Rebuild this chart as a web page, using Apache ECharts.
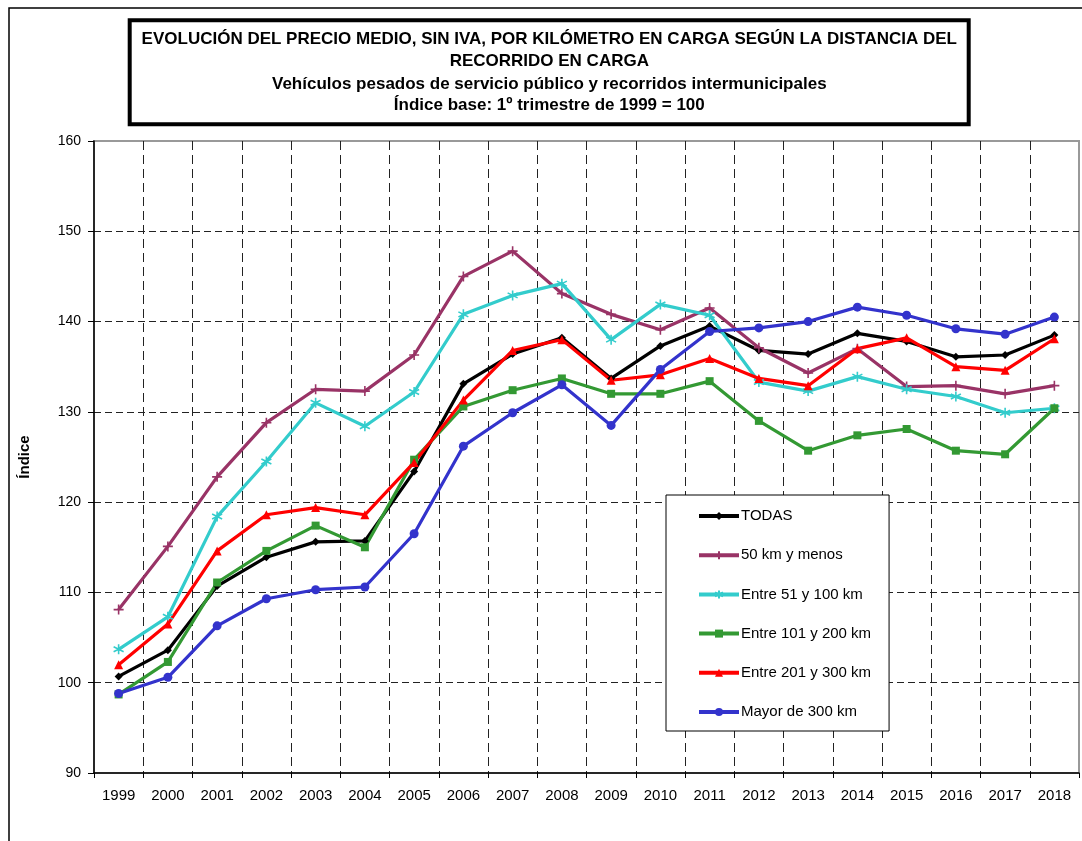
<!DOCTYPE html>
<html>
<head>
<meta charset="utf-8">
<script src="https://cdn.jsdelivr.net/npm/echarts@6/dist/echarts.min.js"></script>
<style>
html,body{margin:0;padding:0;background:#fff;}
#main{width:1082px;height:841px;}
</style>
</head>
<body>
<div id="main"></div>
<script>
var years = ['1999','2000','2001','2002','2003','2004','2005','2006','2007','2008','2009','2010','2011','2012','2013','2014','2015','2016','2017','2018'];
var yTicks = [90, 160, 10];
var titleLines = [
  'EVOLUCIÓN DEL PRECIO MEDIO, SIN IVA, POR KILÓMETRO EN CARGA SEGÚN LA DISTANCIA DEL',
  'RECORRIDO EN CARGA',
  'Vehículos pesados de servicio público y recorridos intermunicipales',
  'Índice base: 1º trimestre de 1999 = 100'
];
var seriesNames = ['TODAS','50 km y menos','Entre 51 y 100 km','Entre 101 y 200 km','Entre 201 y 300 km','Mayor de 300 km'];
var todas    = [100.7,103.6,110.7,113.9,115.6,115.7,123.4,133.1,136.4,138.2,133.7,137.3,139.5,136.8,136.4,138.7,137.8,136.1,136.3,138.5];
var menos50  = [108.1,115.1,122.8,128.8,132.5,132.3,136.3,145.0,147.8,143.1,140.8,139.1,141.5,137.1,134.3,137.0,132.8,132.9,132.0,132.9];
var e51_100  = [103.7,107.3,118.4,124.5,131.0,128.4,132.2,140.8,142.9,144.2,138.0,141.9,140.7,133.3,132.3,133.9,132.5,131.7,129.9,130.4];
var e101_200 = [98.7,102.3,111.1,114.6,117.4,115.0,124.7,130.6,132.4,133.7,132.0,132.0,133.4,129.0,125.7,127.4,128.1,125.7,125.3,130.4];
var e201_300 = [102.0,106.5,114.6,118.6,119.4,118.6,124.4,131.3,136.8,138.0,133.5,134.1,135.9,133.7,132.9,137.0,138.2,135.0,134.6,138.1];
var mayor300 = [98.8,100.6,106.3,109.3,110.3,110.6,116.5,126.2,129.9,133.0,128.5,134.7,138.9,139.3,140.0,141.6,140.7,139.2,138.6,140.5];

var FONT = "'Liberation Sans', Arial, Helvetica, sans-serif";
var chart = echarts.init(document.getElementById('main'), null, {renderer:'canvas'});

function mk(name, data, color, symbol, size, stroke) {
  return {
    name: name, type: 'line', data: data,
    symbol: symbol, symbolSize: size,
    showAllSymbol: true,
    lineStyle: {color: color, width: 3.2},
    itemStyle: stroke ? {color: color, borderColor: color, borderWidth: 1.6} : {color: color, borderWidth: 0},
    emphasis: {disabled: true},
    animation: false
  };
}
var plusPath = 'path://M0,5L10,5M5,0L5,10';
var starPath = 'path://M5,0L5,10M0.7,2.5L9.3,7.5M0.7,7.5L9.3,2.5';

var graphics = [
  {type:'rect', shape:{x:9, y:8, width:1100, height:860}, style:{fill:'none', stroke:'#000', lineWidth:1.5}, silent:true},
  {type:'rect', shape:{x:129.7, y:20.3, width:839, height:104}, style:{fill:'#fff', stroke:'#000', lineWidth:4}, silent:true}
];
var lineY = [39, 61, 84, 105];
for (var i = 0; i < titleLines.length; i++) {
  graphics.push({type:'text', x:549.3, y:lineY[i], silent:true,
    style:{text:titleLines[i], fill:'#000', font:'bold 17px ' + FONT, textAlign:'center', textVerticalAlign:'middle'}});
}

chart.setOption({
  animation: false,
  backgroundColor: '#fff',
  textStyle: {fontFamily: FONT},
  graphic: graphics,
  grid: {left:94, top:141, right:3, bottom:68, show:true, borderColor:'#999', borderWidth:2, backgroundColor:'transparent'},
  legend: {
    orient:'vertical', left:666, top:495,
    padding:[13, 18, 11, 31],
    itemWidth:40, itemHeight:10, itemGap:23.2,
    backgroundColor:'#fff', borderColor:'#000', borderWidth:1,
    lineStyle:{width:4},
    textStyle:{fontSize:15, color:'#000', fontFamily:FONT, lineHeight:16, padding:[0,0,0,-3]},
    data: seriesNames
  },
  xAxis: {
    type:'category', data: years, boundaryGap:true,
    axisLine:{lineStyle:{color:'#000', width:1.5}},
    axisTick:{show:true, length:5, interval:0, lineStyle:{color:'#000'}},
    axisLabel:{interval:0, color:'#000', fontSize:15, margin:15, fontFamily:FONT},
    splitLine:{show:true, interval:0, showMinLine:false, showMaxLine:false, lineStyle:{color:'#222', width:1, type:[9,5]}}
  },
  yAxis: {
    type:'value', min:yTicks[0], max:yTicks[1], interval:yTicks[2],
    name:'Índice', nameLocation:'middle', nameGap:62, nameRotate:90,
    nameTextStyle:{fontSize:15, fontWeight:'bold', color:'#000', fontFamily:FONT},
    axisLine:{show:true, lineStyle:{color:'#000', width:1.5}},
    axisTick:{show:true, length:6, lineStyle:{color:'#000'}},
    axisLabel:{color:'#000', fontSize:14, margin:13, fontFamily:FONT},
    splitLine:{show:true, showMinLine:false, showMaxLine:false, lineStyle:{color:'#222', width:1, type:[7,4]}}
  },
  series: [
    mk(seriesNames[0], todas, '#000000', 'diamond', 8, false),
    mk(seriesNames[1], menos50, '#993366', plusPath, 10, true),
    mk(seriesNames[2], e51_100, '#33CCCC', starPath, 10, true),
    mk(seriesNames[3], e101_200, '#339933', 'rect', 8, false),
    mk(seriesNames[4], e201_300, '#FF0000', 'triangle', 9, false),
    mk(seriesNames[5], mayor300, '#3333CC', 'circle', 9, false)
  ]
});
</script>
</body>
</html>
